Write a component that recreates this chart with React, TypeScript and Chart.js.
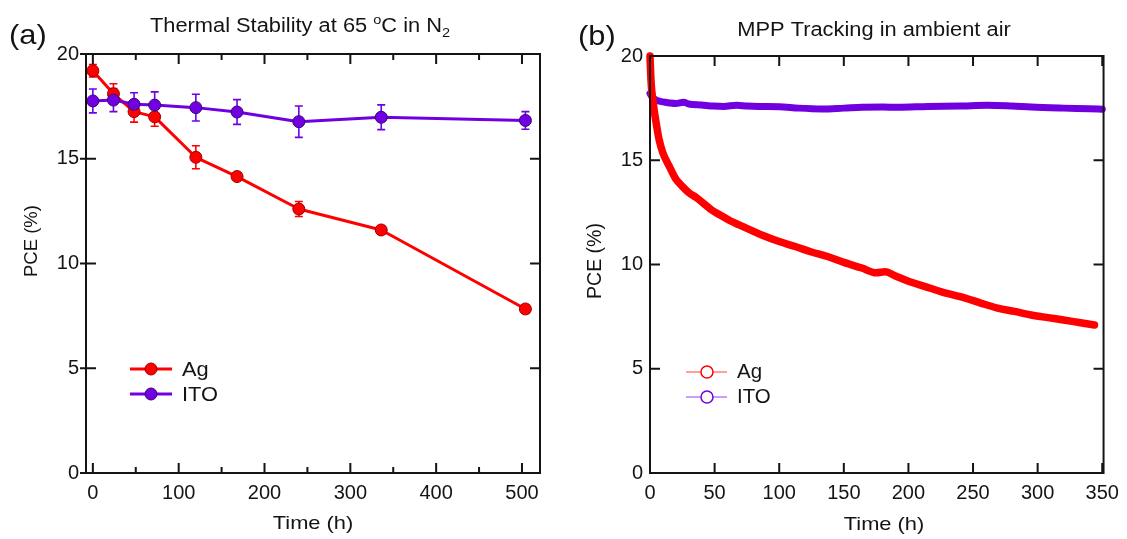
import React, { useEffect, useRef } from 'react';
import { Chart, registerables } from 'chart.js';
Chart.register(...registerables);

// ---------- Panel (a): thermal stability ----------
const TIME_A = [0, 24, 48, 72, 120, 168, 240, 336, 504];
const AG_A = [19.2, 18.1, 17.25, 17.0, 15.07, 14.15, 12.6, 11.6, 7.83];
const AG_A_ERR = [0.3, 0.48, 0.5, 0.45, 0.55, 0.15, 0.36, 0.2, 0.2];
const ITO_A = [17.76, 17.8, 17.6, 17.56, 17.44, 17.23, 16.77, 16.98, 16.83];
const ITO_A_ERR = [0.57, 0.55, 0.55, 0.63, 0.64, 0.59, 0.75, 0.59, 0.42];
const X_TICKS_A = [0, 100, 200, 300, 400, 500];
const X_MINOR_A = [50, 150, 250, 350, 450];

// ---------- Panel (b): MPP tracking ----------
const TIME_B_AG = [0, 0.5, 1, 2, 3, 5, 7, 10, 15, 20, 25, 30, 36, 42, 48, 55, 62, 69, 78, 87, 100, 113, 125, 138, 150, 164, 175, 182, 190, 200, 213, 225, 244, 256, 269, 282, 295, 308, 320, 332, 344];
const AG_B = [20.0, 19.2, 18.6, 18.0, 17.5, 16.7, 16.0, 15.35, 14.7, 14.1, 13.75, 13.45, 13.2, 12.9, 12.6, 12.35, 12.1, 11.9, 11.65, 11.4, 11.1, 10.85, 10.6, 10.37, 10.1, 9.83, 9.6, 9.65, 9.45, 9.2, 8.94, 8.7, 8.39, 8.15, 7.91, 7.75, 7.58, 7.45, 7.34, 7.22, 7.1];
const TIME_B_ITO = [0, 1, 3, 6, 10, 15, 20, 26, 30, 40, 49, 57, 67, 75, 85, 100, 115, 133, 150, 164, 180, 192, 215, 240, 261, 280, 295, 320, 340, 350];
const ITO_B = [18.2, 18.1, 17.95, 17.85, 17.8, 17.75, 17.72, 17.78, 17.7, 17.65, 17.6, 17.58, 17.64, 17.6, 17.58, 17.57, 17.5, 17.46, 17.5, 17.54, 17.55, 17.54, 17.58, 17.6, 17.64, 17.6, 17.55, 17.5, 17.47, 17.45];
const X_TICKS_B = [0, 50, 100, 150, 200, 250, 300, 350];

const Y_TICKS = [0, 5, 10, 15, 20];
const SERIES = ['Ag', 'ITO'];

const RED = '#ff0000';
const RED_DARK = '#9a0000';
const PURPLE = '#7000e0';
const PURPLE_DARK = '#3a0078';
const INK = '#141414';
const FONT = '"Liberation Sans", Arial, Helvetica, sans-serif';

function sText(ctx: CanvasRenderingContext2D, text: string, x: number, y: number, size: number, sx: number, align: string) {
  ctx.save();
  ctx.font = `${size}px ${FONT}`;
  ctx.fillStyle = INK;
  ctx.textBaseline = 'alphabetic';
  ctx.textAlign = 'left';
  const w = ctx.measureText(text).width * sx;
  const x0 = align === 'center' ? x - w / 2 : align === 'right' ? x - w : x;
  ctx.translate(x0, y);
  ctx.scale(sx, 1);
  ctx.fillText(text, 0, 0);
  ctx.restore();
  return w;
}

function measure(ctx: CanvasRenderingContext2D, text: string, size: number, sx: number) {
  ctx.save();
  ctx.font = `${size}px ${FONT}`;
  const w = ctx.measureText(text).width * sx;
  ctx.restore();
  return w;
}

function drawFrame(chart: any, xMajor: number[], xMinor: number[], leftOut: number) {
  const { ctx, chartArea: a, scales } = chart;
  const xs = scales.x, ys = scales.y;
  ctx.save();
  ctx.strokeStyle = INK;
  ctx.lineWidth = 2;
  ctx.lineCap = 'butt';
  ctx.beginPath();
  xMajor.forEach((v) => {
    const px = xs.getPixelForValue(v);
    ctx.moveTo(px, a.bottom); ctx.lineTo(px, a.bottom - 10);
    ctx.moveTo(px, a.top); ctx.lineTo(px, a.top + 10);
  });
  xMinor.forEach((v) => {
    const px = xs.getPixelForValue(v);
    ctx.moveTo(px, a.bottom); ctx.lineTo(px, a.bottom - 6);
    ctx.moveTo(px, a.top); ctx.lineTo(px, a.top + 6);
  });
  Y_TICKS.forEach((v) => {
    const py = ys.getPixelForValue(v);
    ctx.moveTo(a.left - leftOut, py); ctx.lineTo(a.left + 10, py);
    ctx.moveTo(a.right, py); ctx.lineTo(a.right - 10, py);
  });
  ctx.stroke();
  ctx.strokeRect(a.left, a.top, a.right - a.left, a.bottom - a.top);
  ctx.restore();
}

function drawErrorBars(chart: any) {
  const { ctx, scales } = chart;
  const sets = [
    { v: AG_A, e: AG_A_ERR, c: RED },
    { v: ITO_A, e: ITO_A_ERR, c: PURPLE },
  ];
  ctx.save();
  ctx.lineWidth = 1.6;
  sets.forEach((s) => {
    ctx.strokeStyle = s.c;
    ctx.beginPath();
    TIME_A.forEach((t, i) => {
      const px = scales.x.getPixelForValue(t);
      const y1 = scales.y.getPixelForValue(s.v[i] + s.e[i]);
      const y2 = scales.y.getPixelForValue(s.v[i] - s.e[i]);
      ctx.moveTo(px, y1); ctx.lineTo(px, y2);
      ctx.moveTo(px - 4, y1); ctx.lineTo(px + 4, y1);
      ctx.moveTo(px - 4, y2); ctx.lineTo(px + 4, y2);
    });
    ctx.stroke();
  });
  ctx.restore();
}

function drawYTitle(ctx: CanvasRenderingContext2D, x: number, y: number, size: number) {
  ctx.save();
  ctx.translate(x, y);
  ctx.rotate(-Math.PI / 2);
  ctx.font = `${size}px ${FONT}`;
  ctx.fillStyle = INK;
  ctx.textAlign = 'center';
  ctx.textBaseline = 'middle';
  ctx.fillText('PCE (%)', 0, 0);
  ctx.restore();
}

const panelAPlugin = {
  id: 'panelA',
  beforeDatasetsDraw(chart: any) { drawErrorBars(chart); },
  afterDraw(chart: any) {
    const ctx = chart.ctx;
    drawFrame(chart, X_TICKS_A, X_MINOR_A, 6);
    sText(ctx, '(a)', 9, 44, 28, 1.1, 'left');
    const sx = 1.12, big = 19.5, small = 13;
    const p1 = 'Thermal Stability at 65 ', p2 = 'o', p3 = 'C in N', p4 = '2';
    const total = measure(ctx, p1, big, sx) + measure(ctx, p2, small, sx) + measure(ctx, p3, big, sx) + measure(ctx, p4, small, sx);
    let x = 300 - total / 2;
    const base = 32;
    x += sText(ctx, p1, x, base, big, sx, 'left');
    x += sText(ctx, p2, x, base - 8, small, sx, 'left');
    x += sText(ctx, p3, x, base, big, sx, 'left');
    sText(ctx, p4, x, base + 5, small, sx, 'left');
    const a = chart.chartArea;
    sText(ctx, 'Time (h)', (a.left + a.right) / 2, 529, 19, 1.15, 'center');
    drawYTitle(ctx, 32, 241, 18.5);
    const rows = [
      { name: SERIES[0], c: RED, d: RED_DARK, y: 369 },
      { name: SERIES[1], c: PURPLE, d: PURPLE_DARK, y: 394 },
    ];
    rows.forEach((r) => {
      ctx.save();
      ctx.strokeStyle = r.c; ctx.lineWidth = 3;
      ctx.beginPath(); ctx.moveTo(130, r.y); ctx.lineTo(172, r.y); ctx.stroke();
      ctx.fillStyle = r.c; ctx.strokeStyle = r.d; ctx.lineWidth = 1;
      ctx.beginPath(); ctx.arc(151, r.y, 6, 0, Math.PI * 2); ctx.fill(); ctx.stroke();
      ctx.restore();
      sText(ctx, r.name, 182, r.y + 7, 19.5, 1.12, 'left');
    });
  },
};

const panelBPlugin = {
  id: 'panelB',
  afterDraw(chart: any) {
    const ctx = chart.ctx;
    drawFrame(chart, X_TICKS_B, [], 0);
    sText(ctx, '(b)', 13, 45, 28, 1.1, 'left');
    sText(ctx, 'MPP Tracking in ambient air', 309, 36, 19.5, 1.12, 'center');
    sText(ctx, 'Time (h)', 319, 530, 19, 1.15, 'center');
    drawYTitle(ctx, 31, 261, 19.5);
    const rows = [
      { name: SERIES[0], c: RED, y: 372 },
      { name: SERIES[1], c: PURPLE, y: 397 },
    ];
    rows.forEach((r) => {
      ctx.save();
      ctx.strokeStyle = r.c; ctx.globalAlpha = 0.75; ctx.lineWidth = 1;
      ctx.beginPath(); ctx.moveTo(121, r.y); ctx.lineTo(136, r.y); ctx.moveTo(148, r.y); ctx.lineTo(162, r.y); ctx.stroke();
      ctx.globalAlpha = 1; ctx.lineWidth = 1.5;
      ctx.beginPath(); ctx.arc(142, r.y, 6, 0, Math.PI * 2); ctx.stroke();
      ctx.restore();
      sText(ctx, r.name, 172, r.y + 6, 19.5, 1.05, 'left');
    });
  },
};

function tickOpts(size: number, padding: number) {
  return { font: { family: FONT, size }, color: INK, padding, maxRotation: 0, autoSkip: false };
}

function makeA(canvas: HTMLCanvasElement) {
  return new Chart(canvas, {
    type: 'line',
    data: {
      datasets: [
        {
          label: SERIES[1],
          data: TIME_A.map((t, i) => ({ x: t, y: ITO_A[i] })),
          borderColor: PURPLE, backgroundColor: PURPLE,
          pointBackgroundColor: PURPLE, pointBorderColor: PURPLE_DARK,
          pointRadius: 6, pointBorderWidth: 1, borderWidth: 3, tension: 0,
          borderJoinStyle: 'round',
        },
        {
          label: SERIES[0],
          data: TIME_A.map((t, i) => ({ x: t, y: AG_A[i] })),
          borderColor: RED, backgroundColor: RED,
          pointBackgroundColor: RED, pointBorderColor: RED_DARK,
          pointRadius: 6, pointBorderWidth: 1, borderWidth: 3, tension: 0,
          borderJoinStyle: 'round',
        },
      ],
    },
    options: {
      responsive: false, animation: false, devicePixelRatio: 1,
      layout: { padding: { left: 0, top: 54, right: 25, bottom: 0 } },
      plugins: { legend: { display: false }, tooltip: { enabled: false }, title: { display: false } },
      scales: {
        x: {
          type: 'linear', min: -8, max: 521,
          grid: { display: false, drawTicks: false }, border: { display: false },
          ticks: tickOpts(20, 8),
          afterBuildTicks: (s: any) => { s.ticks = X_TICKS_A.map((v) => ({ value: v })); },
          afterFit: (s: any) => { s.height = 66; },
        },
        y: {
          type: 'linear', min: 0, max: 20,
          grid: { display: false, drawTicks: false }, border: { display: false },
          ticks: tickOpts(20, 7),
          afterBuildTicks: (s: any) => { s.ticks = Y_TICKS.map((v) => ({ value: v })); },
          afterFit: (s: any) => { s.width = 86; },
        },
      },
    } as any,
    plugins: [panelAPlugin],
  } as any);
}

function makeB(canvas: HTMLCanvasElement) {
  return new Chart(canvas, {
    type: 'line',
    data: {
      datasets: [
        {
          label: SERIES[0],
          data: TIME_B_AG.map((t, i) => ({ x: t, y: AG_B[i] })),
          borderColor: RED, backgroundColor: RED, pointRadius: 0, borderWidth: 7.5,
          tension: 0.3, cubicInterpolationMode: 'monotone', borderCapStyle: 'round', borderJoinStyle: 'round', clip: false,
        },
        {
          label: SERIES[1],
          data: TIME_B_ITO.map((t, i) => ({ x: t, y: ITO_B[i] })),
          borderColor: PURPLE, backgroundColor: PURPLE, pointRadius: 0, borderWidth: 7,
          tension: 0.3, cubicInterpolationMode: 'monotone', borderCapStyle: 'round', borderJoinStyle: 'round', clip: false,
        },
      ],
    },
    options: {
      responsive: false, animation: false, devicePixelRatio: 1,
      layout: { padding: { left: 0, top: 56, right: 22, bottom: 0 } },
      plugins: { legend: { display: false }, tooltip: { enabled: false }, title: { display: false } },
      scales: {
        x: {
          type: 'linear', min: 0, max: 351,
          grid: { display: false, drawTicks: false }, border: { display: false },
          ticks: tickOpts(20, 8),
          afterBuildTicks: (s: any) => { s.ticks = X_TICKS_B.map((v) => ({ value: v })); },
          afterFit: (s: any) => { s.height = 66; },
        },
        y: {
          type: 'linear', min: 0, max: 20,
          grid: { display: false, drawTicks: false }, border: { display: false },
          ticks: tickOpts(20, 7),
          afterBuildTicks: (s: any) => { s.ticks = Y_TICKS.map((v) => ({ value: v })); },
          afterFit: (s: any) => { s.width = 85; },
        },
      },
    } as any,
    plugins: [panelBPlugin],
  } as any);
}

export default function App() {
  const refA = useRef<HTMLCanvasElement>(null);
  const refB = useRef<HTMLCanvasElement>(null);
  useEffect(() => {
    const a = makeA(refA.current!);
    const b = makeB(refB.current!);
    return () => { a.destroy(); b.destroy(); };
  }, []);
  return (
    <div style={{ position: 'fixed', left: 0, top: 0, width: 1127, height: 539, background: '#fff' }}>
      <canvas ref={refA} width={565} height={539} style={{ position: 'absolute', left: 0, top: 0 }} />
      <canvas ref={refB} width={562} height={539} style={{ position: 'absolute', left: 565, top: 0 }} />
    </div>
  );
}
